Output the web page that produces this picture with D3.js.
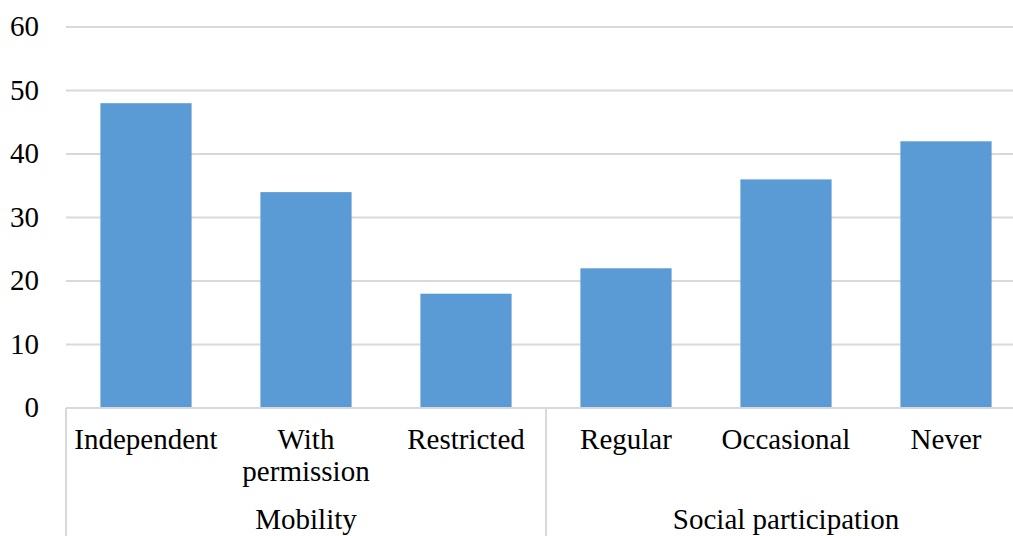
<!DOCTYPE html>
<html>
<head>
<meta charset="utf-8">
<script src="https://cdn.jsdelivr.net/npm/d3@7"></script>
</head>
<body style="margin:0;background:#fff;overflow:hidden">
<svg id="chart" width="1013" height="536" style="display:block"></svg>
<script>
const categories = ["Independent", "With\npermission", "Restricted", "Regular", "Occasional", "Never"];
const groups = ["Mobility", "Social participation"];
const groupOf = ["Mobility", "Mobility", "Mobility", "Social participation", "Social participation", "Social participation"];
const values = [48, 34, 18, 22, 36, 42];
const yTicks = [0, 10, 20, 30, 40, 50, 60];

(function () {
const svg = d3.select("#chart");
const mLeft = 66, mRight = 1026, mTop = 27, mBottom = 408;
const gridColor = "#d9d9d9";
const barColor = "#5b9bd5";
const fontSize = 29;
const ff = "'Liberation Serif', 'Times New Roman', Tinos, Times";

const x = d3.scaleBand().domain(categories).range([mLeft, mRight]).paddingInner(0.43).paddingOuter(0.215);
const xg = d3.scaleBand().domain(groups).range([mLeft, mRight]);
const y = d3.scaleLinear().domain([0, 60]).range([mBottom, mTop]);

// gridlines
svg.append("g").selectAll("line").data(yTicks.filter(d => d > 0)).join("line")
  .attr("x1", mLeft).attr("x2", mRight)
  .attr("y1", d => y(d)).attr("y2", d => y(d))
  .attr("stroke", gridColor).attr("stroke-width", 2);

// y tick labels
svg.append("g").selectAll("text").data(yTicks).join("text")
  .attr("x", 39).attr("y", d => y(d) + 9)
  .attr("text-anchor", "end").attr("font-size", fontSize).style("font-family", ff).attr("fill", "#000")
  .text(d => d);

// bars
svg.append("g").selectAll("rect").data(values).join("rect")
  .attr("x", (d, i) => x(categories[i]))
  .attr("width", x.bandwidth())
  .attr("y", d => y(d))
  .attr("height", d => y(0) - y(d))
  .attr("fill", barColor);

// x axis line
svg.append("line").attr("x1", mLeft).attr("x2", mRight).attr("y1", mBottom).attr("y2", mBottom)
  .attr("stroke", gridColor).attr("stroke-width", 2);

// group separators
const seps = [mLeft].concat(groups.map(g => xg(g) + xg.bandwidth()));
svg.append("g").selectAll("line").data(seps).join("line")
  .attr("x1", d => d).attr("x2", d => d).attr("y1", mBottom).attr("y2", 536)
  .attr("stroke", gridColor).attr("stroke-width", 2);

// category labels
const cl = svg.append("g").selectAll("text").data(categories).join("text")
  .attr("text-anchor", "middle").attr("font-size", fontSize).style("font-family", ff).attr("fill", "#000")
  .attr("transform", d => `translate(${x(d) + x.bandwidth() / 2},449)`);
cl.selectAll("tspan").data(d => d.split("\n")).join("tspan")
  .attr("x", 0).attr("y", (d, i) => i * 32).text(d => d);

// group labels
svg.append("g").selectAll("text").data(groups).join("text")
  .attr("x", d => {
    const idx = groupOf.map((g, i) => g === d ? i : -1).filter(i => i >= 0);
    const a = x(categories[idx[0]]), b = x(categories[idx[idx.length - 1]]) + x.bandwidth();
    return (a + b) / 2;
  })
  .attr("y", 529).attr("text-anchor", "middle").attr("font-size", fontSize).style("font-family", ff).attr("fill", "#000")
  .text(d => d);
})();
</script>
</body>
</html>
